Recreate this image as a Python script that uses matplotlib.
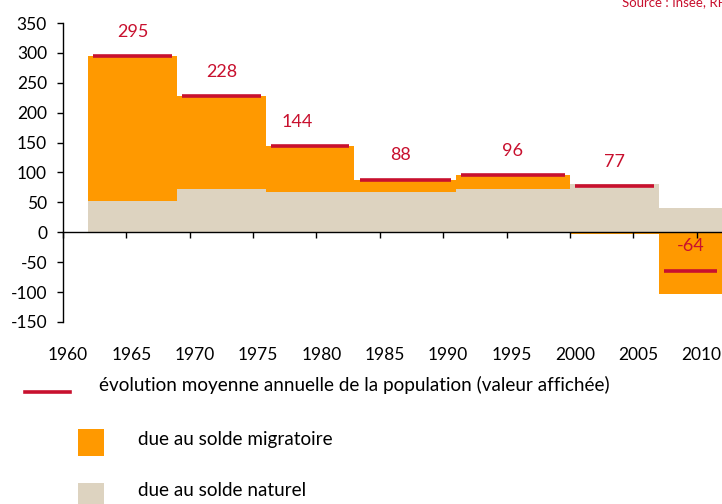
import matplotlib
matplotlib.use("Agg")
import matplotlib.pyplot as plt
import matplotlib.transforms as mtransforms
from matplotlib.patches import Rectangle
from matplotlib.lines import Line2D

plt.rcParams['font.family'] = ['Lato', 'DejaVu Sans']
plt.rcParams['axes.unicode_minus'] = False

# periods (edges as drawn on the original chart)
period_edges = [1962, 1969, 1976, 1983, 1991, 2000, 2007, 2012]
solde_naturel = [52, 73, 67, 67, 73, 80, 40]
solde_migratoire = [243, 155, 77, 21, 23, -3, -104]
evolution = [295, 228, 144, 88, 96, 77, -64]

year_ticks = list(range(1960, 2011, 5))
y_ticks = list(range(-150, 351, 50))

RED = '#C8102E'
ORANGE = '#FF9900'
BEIGE = '#DDD3C0'

W, H = 722, 504
fig = plt.figure(figsize=(W / 100, H / 100), dpi=100)
ax = fig.add_axes([63 / W, 1 - 322 / H, 1 - 63 / W, (322 - 23) / H])


def px(x, y):
    # pixel (from top-left) -> figure fraction
    return x / W, 1 - y / H


lefts = period_edges[:-1]
widths = [b - a for a, b in zip(period_edges[:-1], period_edges[1:])]
centers = [a + w / 2 for a, w in zip(lefts, widths)]

ax.bar(lefts, solde_naturel, width=widths, align='edge', color=BEIGE, linewidth=0, zorder=1)
mig_bottom = [n if m > 0 else 0 for n, m in zip(solde_naturel, solde_migratoire)]
ax.bar(lefts, solde_migratoire, width=widths, bottom=mig_bottom, align='edge',
       color=ORANGE, linewidth=0, zorder=1)

inset = 0.4
ax.hlines(evolution, [a + inset for a in lefts], [a + w - inset for a, w in zip(lefts, widths)],
          color=RED, linewidth=2.6, zorder=3)

label_dx = [0, 0, -13, -5, 0, 0, 0]  # small nudges in pixels
for c, v, dx in zip(centers, evolution, label_dx):
    ax.annotate(str(v), (c, v), xytext=(dx * 0.72, 17.5), textcoords='offset points',
                ha='center', va='center', color=RED, fontsize=13)

ax.set_xlim(1960, 2012)
ax.set_ylim(-150, 350)

# zero line with ticks pointing down, labels at the bottom
for s in ['right', 'bottom']:
    ax.spines[s].set_visible(False)
ax.spines['top'].set_position(('data', 0))
ax.spines['top'].set_zorder(4)
ax.spines['top'].set_linewidth(1.0)
ax.spines['left'].set_linewidth(1.0)

ax.set_xticks(year_ticks)
ax.set_xticklabels([str(y) for y in year_ticks])
ax.tick_params(axis='x', which='both', top=True, bottom=False, labeltop=False, labelbottom=True,
               direction='in', length=4.5, width=1.0, pad=18, labelsize=12.5, colors='black')
off = mtransforms.ScaledTranslation(5 / 100, 0, fig.dpi_scale_trans)
for lbl in ax.get_xticklabels():
    lbl.set_transform(lbl.get_transform() + off)

ax.set_yticks(y_ticks)
ax.set_yticklabels([str(v) for v in y_ticks])
ax.tick_params(axis='y', direction='out', length=4.5, width=1.0, pad=7, labelsize=12.5)

# legend drawn by hand
fig.add_artist(Line2D([25 / W, 70 / W], [1 - 392 / H] * 2, color=RED, linewidth=2.6,
                      transform=fig.transFigure))
fig.text(*px(99, 385), 'évolution moyenne annuelle de la population (valeur affichée)',
         ha='left', va='center', fontsize=13.6)
fig.add_artist(Rectangle(px(78, 456), 26 / W, 27 / H, facecolor=ORANGE, edgecolor='none',
                         transform=fig.transFigure))
fig.text(*px(138, 439), 'due au solde migratoire', ha='left', va='center', fontsize=13.6)
fig.add_artist(Rectangle(px(78, 509), 26 / W, 26 / H, facecolor=BEIGE, edgecolor='none',
                         transform=fig.transFigure))
fig.text(*px(138, 490), 'due au solde naturel', ha='left', va='center', fontsize=13.6)

fig.text(*px(622, 6), 'Source : Insee, RP', ha='left', va='baseline', fontsize=9.5, color=RED)

fig.savefig('out.png', dpi=100)
